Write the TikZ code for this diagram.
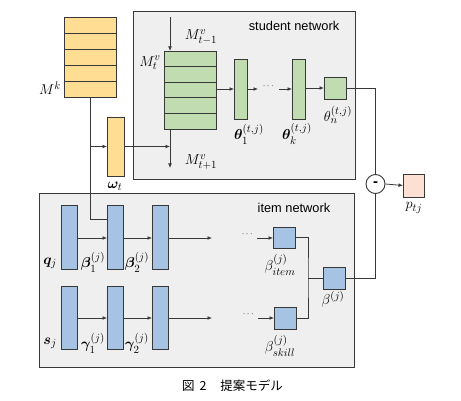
\documentclass[tikz,border=0pt]{standalone}
\usepackage{amsmath,bm}
\usepackage{fontspec}
\setsansfont{Liberation Sans}
\newfontfamily\jpfont{Noto Sans CJK JP}
\usetikzlibrary{arrows.meta}
\definecolor{yel}{HTML}{FFDD93}
\definecolor{grn}{HTML}{C1DCB1}
\definecolor{blu}{HTML}{A7C3E3}
\definecolor{pch}{HTML}{FCE1D2}
\definecolor{panel}{HTML}{EFEFEF}
\definecolor{ln}{HTML}{383838}
\begin{document}
\begin{tikzpicture}[x=1pt,y=-1pt,
  cell/.style={draw=ln,line width=0.9pt,inner sep=0pt,outer sep=0pt},
  panelbox/.style={draw=ln,fill=panel,line width=0.9pt},
  conn/.style={draw=ln,line width=0.8pt},
  arr/.style={conn,-{Latex[length=4.5pt,width=3.8pt]}},
  mlab/.style={inner sep=0pt,font=\fontsize{15}{17}\selectfont},
  tlab/.style={inner sep=0pt,font=\sffamily\fontsize{12.8}{15}\selectfont}]
\useasboundingbox (0,0) rectangle (461,401);
% panels
\draw[panelbox] (133,11) rectangle (355,179);
\draw[panelbox] (39,193) rectangle (354,367);
\node[tlab] (stud) at (294,26) {student network};
\node[tlab] (item) at (294,208) {item network};
% M^k stack
\node[cell,fill=yel,minimum width=52pt,minimum height=80pt] (Mk) at (90,57) {};
\foreach \i in {1,...,4} \draw[ln,line width=0.8pt] (64,17+16*\i) -- (116,17+16*\i);
\node[mlab] (Mklab) at (50,88) {$M^{k}$};
% omega
\node[cell,fill=yel,minimum width=17pt,minimum height=59pt] (om) at (115.5,146.5) {};
\node[mlab] (omlab) at (115,186) {$\bm{\omega}_t$};
% M^v stack
\node[cell,fill=grn,minimum width=52pt,minimum height=78pt] (Mv) at (190,90) {};
\foreach \i in {1,...,4} \draw[ln,line width=0.8pt] (164,51+15.6*\i) -- (216,51+15.6*\i);
\node[mlab] (Mvt) at (150,63) {$M^{v}_{t}$};
\node[mlab] (Mvp) at (201,37) {$M^{v}_{t-1}$};
\node[mlab] (Mvn) at (201,162) {$M^{v}_{t+1}$};
\coordinate (vtop) at (170,17);
\coordinate (vbot) at (170,168);
% thetas
\node[cell,fill=grn,minimum width=13pt,minimum height=60pt] (th1) at (240.5,89) {};
\node[cell,fill=grn,minimum width=13pt,minimum height=60pt] (thk) at (298.5,89) {};
\node[cell,fill=grn,minimum width=22pt,minimum height=22pt] (thn) at (335,88) {};
\node[mlab] (th1lab) at (249,134) {$\bm{\theta}_{1}^{(t,j)}$};
\node[mlab] (thklab) at (297,134) {$\bm{\theta}_{k}^{(t,j)}$};
\node[mlab] (thnlab) at (338,115) {$\theta_{n}^{(t,j)}$};
\node[inner sep=0pt,font=\small] (dots1) at (269,86) {$\cdots$};
\coordinate (d1a) at (258,89);
\coordinate (d1b) at (279,89);
% minus circle and output
\node[circle,draw=ln,line width=0.9pt,fill=white,minimum size=19pt,inner sep=0pt,font=\sffamily\bfseries\fontsize{15}{16}\selectfont] (circ) at (375.5,184) {-};
\node[cell,fill=pch,minimum width=21pt,minimum height=23pt] (p) at (413.5,185.5) {};
\node[mlab] (plab) at (414,208) {$p_{tj}$};
% item network
\node[cell,fill=blu,minimum width=16pt,minimum height=64pt] (q) at (69,237) {};
\node[cell,fill=blu,minimum width=16pt,minimum height=64pt] (b1) at (115,237) {};
\node[cell,fill=blu,minimum width=16pt,minimum height=64pt] (b2) at (160,237) {};
\node[cell,fill=blu,minimum width=16pt,minimum height=63pt] (s) at (69,317.5) {};
\node[cell,fill=blu,minimum width=16pt,minimum height=63pt] (g1) at (115,317.5) {};
\node[cell,fill=blu,minimum width=16pt,minimum height=63pt] (g2) at (160,317.5) {};
\node[cell,fill=blu,minimum width=22pt,minimum height=21pt] (bit) at (284,237.5) {};
\node[cell,fill=blu,minimum width=22pt,minimum height=22pt] (bsk) at (285,318) {};
\node[cell,fill=blu,minimum width=22pt,minimum height=22pt] (beta) at (334,278) {};
\node[mlab] (qlab) at (50,263) {$\bm{q}_j$};
\node[mlab] (b1lab) at (93,262) {$\bm{\beta}_{1}^{(j)}$};
\node[mlab] (b2lab) at (137,262) {$\bm{\beta}_{2}^{(j)}$};
\node[mlab] (slab) at (50,343) {$\bm{s}_j$};
\node[mlab] (g1lab) at (93,343) {$\bm{\gamma}_{1}^{(j)}$};
\node[mlab] (g2lab) at (137,343) {$\bm{\gamma}_{2}^{(j)}$};
\node[mlab] (bitlab) at (280,265) {$\beta_{item}^{(j)}$};
\node[mlab] (bsklab) at (280,346) {$\beta_{skill}^{(j)}$};
\node[mlab] (betalab) at (333,299) {$\beta^{(j)}$};
\node[inner sep=0pt,font=\small] (dots2) at (248,234) {$\cdots$};
\node[inner sep=0pt,font=\small] (dots3) at (249,314) {$\cdots$};
\coordinate (r1a) at (212,238);
\coordinate (r1b) at (257,238);
\coordinate (r2a) at (212,318);
\coordinate (r2b) at (258,318);
\coordinate (join) at (308,278);
% caption
\node[inner sep=0pt,font=\jpfont\fontsize{12.5}{14}\selectfont] (cap) at (232.5,386) {図\hspace{0.4em}2\hspace{1.1em}提案モデル};
% connectors: top part
\draw[conn] (Mk.south) |- ([yshift=18pt]b1.west);
\draw[arr] (Mk.south |- om.west) -- (om.west);
\draw[arr] (om.east) -- (om.east -| vtop);
\draw[arr] (vtop) -- (vtop |- Mv.north);
\draw[arr] (Mv.south -| vtop) -- (vbot);
\draw[arr] (Mv.east |- th1.west) -- (th1.west);
\draw[arr] (th1.east) -- (d1a);
\draw[arr] (d1b) -- (thk.west);
\draw[arr] (thk.east |- thn.west) -- (thn.west);
\draw[conn] (thn.east) -| (circ.north);
\draw[arr] (circ.east) -- (p.west);
% item network connectors
\draw[arr] ([yshift=-1pt]q.east) -- ([yshift=-1pt]b1.west);
\draw[arr] ([yshift=-1pt]b1.east) -- ([yshift=-1pt]b2.west);
\draw[arr] ([yshift=-1pt]b2.east) -- (r1a);
\draw[arr] (r1b) -- (bit.west |- r1b);
\draw[arr] ([yshift=-0.5pt]s.east) -- ([yshift=-0.5pt]g1.west);
\draw[arr] ([yshift=-0.5pt]g1.east) -- ([yshift=-0.5pt]g2.west);
\draw[arr] ([yshift=-0.5pt]g2.east) -- (r2a);
\draw[arr] (r2b) -- (bsk.west);
\draw[conn] (bit.east) -| (join) |- (bsk.east);
\draw[conn] (join) -- (beta.west);
\draw[conn] (beta.east) -| (circ.south);
\end{tikzpicture}
\end{document}
